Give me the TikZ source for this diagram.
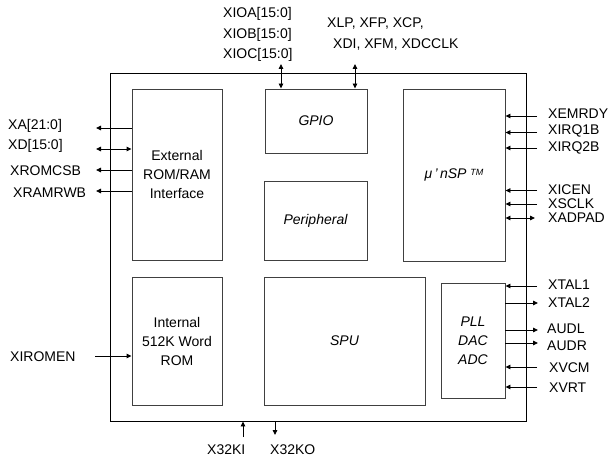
\documentclass[tikz,border=0pt]{standalone}
\usepackage{fontspec}
\setmainfont{Liberation Sans}
\usetikzlibrary{arrows.meta}
\begin{document}
\begin{tikzpicture}[x=1pt,y=-1pt,
  txt/.style={font=\fontsize{14}{17}\selectfont, inner sep=0pt},
  lbl/.style={txt, anchor=west},
  blk/.style={draw=black!75, line width=0.9pt, align=center, inner sep=0pt, font=\fontsize{14}{19}\selectfont},
  sig/.style={line width=0.9pt, draw=black},
  tri/.tip={Triangle[length=5pt,width=4.5pt]},
]
\useasboundingbox (0,0) rectangle (610,457);
% outer chip
\node[draw=black, line width=0.9pt, minimum width=416, minimum height=348, inner sep=0pt] (chip) at (318,247) {};
% blocks
\node[blk, minimum width=90, minimum height=171] (ext) at (177,174.5) {External\\ROM/RAM\\Interface};
\node[blk, minimum width=90, minimum height=128] (irom) at (177,341) {Internal\\512K Word\\ROM};
\node[blk, minimum width=102, minimum height=64] (gpio) at (316,121) {\itshape GPIO};
\node[blk, minimum width=103, minimum height=79] (peri) at (315.5,220.5) {\itshape Peripheral};
\node[blk, minimum width=161, minimum height=128] (spu) at (344.5,341) {\itshape SPU};
\node[blk, minimum width=102, minimum height=172] (usp) at (454,175) {\itshape μ\,’\,nSP \raisebox{0.35ex}{\fontsize{9}{9}\selectfont TM}};
\node[blk, minimum width=64, minimum height=115] (pll) at (473,340.5) {\itshape PLL\\\itshape DAC\\\itshape ADC};

% left side
\coordinate (cA) at (96,128);
\coordinate (cD) at (96,149);
\coordinate (cR) at (96,170);
\coordinate (cW) at (96,191);
\coordinate (cE) at (95,356);
\node[lbl] (lA) at (8,126) {XA[21:0]};
\node[lbl] (lD) at (8,146) {XD[15:0]};
\node[lbl] (lR) at (10,171) {XROMCSB};
\node[lbl] (lW) at (13,193) {XRAMRWB};
\node[lbl] (lE) at (10,357) {XIROMEN};
\draw[sig,-tri] (ext.west |- cA) -- (cA);
\draw[sig,tri-tri] (ext.west |- cD) -- (cD);
\draw[sig,-tri] (ext.west |- cR) -- (cR);
\draw[sig,-tri] (ext.west |- cW) -- (cW);
\draw[sig,-tri] (cE) -- (irom.west |- cE);

% top
\node[lbl] (tA) at (223,14) {XIOA[15:0]};
\node[lbl] (tB) at (223,34.5) {XIOB[15:0]};
\node[lbl] (tC) at (223,55) {XIOC[15:0]};
\node[lbl] (tL1) at (327,24) {XLP, XFP, XCP,};
\node[lbl] (tL2) at (333,45) {XDI, XFM, XDCCLK};
\coordinate (cIO) at (281,64);
\coordinate (cLP) at (355,64);
\draw[sig,tri-tri] (cIO) -- (gpio.north -| cIO);
\draw[sig,tri-tri] (cLP) -- (gpio.north -| cLP);

% right, uSP
\coordinate (rE) at (537,116);
\coordinate (r1) at (537,132.5);
\coordinate (r2) at (537,148);
\coordinate (rI) at (537,190.5);
\coordinate (rS) at (537,204);
\coordinate (rP) at (535,218);
\node[lbl] (lRE) at (548,114) {XEMRDY};
\node[lbl] (lR1) at (548,131) {XIRQ1B};
\node[lbl] (lR2) at (548,148) {XIRQ2B};
\node[lbl] (lRI) at (548,190) {XICEN};
\node[lbl] (lRS) at (548,204) {XSCLK};
\node[lbl] (lRP) at (548,218) {XADPAD};
\draw[sig,-tri] (rE) -- (usp.east |- rE);
\draw[sig,-tri] (r1) -- (usp.east |- r1);
\draw[sig,-tri] (r2) -- (usp.east |- r2);
\draw[sig,-tri] (rI) -- (usp.east |- rI);
\draw[sig,-tri] (rS) -- (usp.east |- rS);
\draw[sig,tri-tri] (usp.east |- rP) -- (rP);

% right, PLL
\coordinate (p1) at (537,286);
\coordinate (p2) at (538,303);
\coordinate (pL) at (538,330);
\coordinate (pR) at (538,343);
\coordinate (pV) at (537,367);
\coordinate (pT) at (537,387);
\node[lbl] (lP1) at (548,285) {XTAL1};
\node[lbl] (lP2) at (548,303) {XTAL2};
\node[lbl] (lPL) at (547,329) {AUDL};
\node[lbl] (lPR) at (547,346) {AUDR};
\node[lbl] (lPV) at (549,368) {XVCM};
\node[lbl] (lPT) at (549,388) {XVRT};
\draw[sig,-tri] (p1) -- (pll.east |- p1);
\draw[sig,-tri] (pll.east |- p2) -- (p2);
\draw[sig,-tri] (pll.east |- pL) -- (pL);
\draw[sig,-tri] (pll.east |- pR) -- (pR);
\draw[sig,-tri] (pV) -- (pll.east |- pV);
\draw[sig,-tri] (pT) -- (pll.east |- pT);

% bottom
\coordinate (bI) at (243,437);
\coordinate (bO) at (275,435);
\node[lbl] (lBI) at (207,450) {X32KI};
\node[lbl] (lBO) at (270,450) {X32KO};
\draw[sig,-tri] (bI) -- (chip.south -| bI);
\draw[sig,-tri] (chip.south -| bO) -- (bO);
\end{tikzpicture}
\end{document}
